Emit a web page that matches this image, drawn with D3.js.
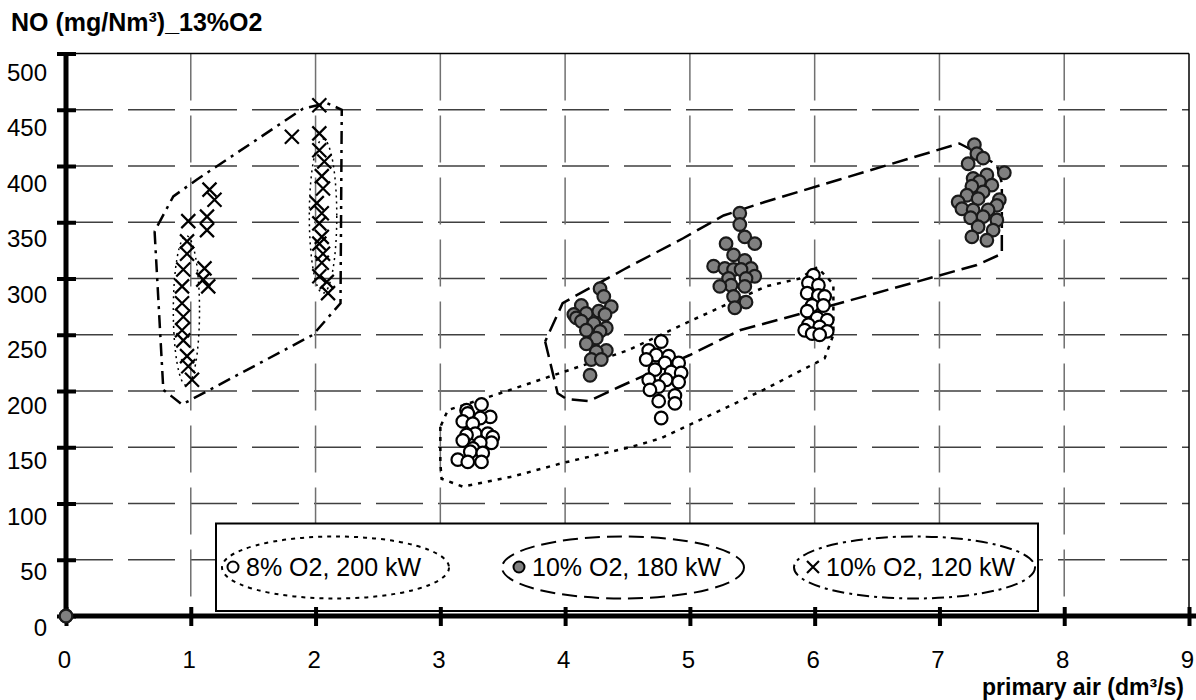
<!DOCTYPE html>
<html>
<head>
<meta charset="utf-8">
<script src="https://cdn.jsdelivr.net/npm/d3@7"></script>
<style>
  body { margin: 0; background: #fff; }
  svg { display: block; font-family: "Liberation Sans", Arial, sans-serif; }
</style>
</head>
<body>
<svg id="chart" width="1196" height="700"></svg>
<script>
// axis ticks
const xTicks = d3.range(0, 10);
const yTicks = d3.range(0, 501, 50);

// 8% O2, 200 kW (open circles)
const open200 = [
  [3.33,188],[3.21,183],[3.22,180],[3.40,177],[3.32,176],[3.18,173],[3.26,171],[3.28,162],
  [3.38,162],[3.21,161],[3.42,159],[3.18,156],[3.41,154],[3.32,154],[3.26,149],[3.24,146],
  [3.34,145],[3.14,139],[3.22,137],[3.33,137],
  [4.77,244],[4.67,236],[4.73,232],[4.83,231],[4.65,228],[4.80,225],[4.91,225],[4.72,219],
  [4.85,217],[4.93,216],[4.67,210],[4.81,210],[4.91,208],[4.75,204],[4.68,201],[4.88,196],
  [4.75,191],[4.88,189],[4.77,176],
  [5.99,303],[5.95,296],[6.03,294],[5.94,287],[6.03,285],[6.08,284],[5.98,276],[6.07,276],
  [5.94,271],[6.02,265],[6.10,263],[5.95,259],[6.04,257],[5.92,254],[6.10,253],[5.98,251],[6.04,250]
];

// 10% O2, 180 kW (grey circles)
const grey180 = [
  [0,0],
  [4.28,291],[4.31,284],[4.13,276],[4.37,275],[4.17,269],[4.27,271],[4.07,268],[4.32,268],
  [4.09,265],[4.13,262],[4.23,260],[4.33,256],[4.17,254],[4.28,253],[4.25,247],[4.17,242],
  [4.33,236],[4.25,235],[4.21,228],[4.29,228],[4.20,214],
  [5.40,358],[5.40,348],[5.44,337],[5.29,331],[5.52,331],[5.35,321],[5.44,316],[5.19,311],
  [5.28,309],[5.49,309],[5.35,308],[5.41,308],[5.52,302],[5.31,300],[5.45,300],[5.33,294],
  [5.24,293],[5.44,293],[5.35,284],[5.45,279],[5.36,274],
  [7.28,419],[7.30,411],[7.35,407],[7.23,402],[7.52,394],[7.38,392],[7.27,389],[7.32,386],
  [7.42,383],[7.26,382],[7.35,377],[7.22,374],[7.31,371],[7.48,370],[7.15,368],[7.46,365],
  [7.18,362],[7.27,361],[7.39,361],[7.35,355],[7.25,354],[7.46,352],[7.31,346],[7.43,343],
  [7.26,337],[7.38,334]
];

// 10% O2, 120 kW (crosses)
const cross120 = [
  [1.15,379],[1.19,370],[0.98,351],[1.13,355],[1.13,343],[0.97,333],[0.97,322],[0.94,308],
  [1.11,309],[1.10,299],[1.14,293],[0.93,293],[0.93,278],[0.94,266],[0.93,254],[0.94,245],
  [0.97,231],[0.98,222],[1.01,210],
  [2.03,454],[1.81,426],[2.03,429],[2.03,414],[2.07,404],[2.05,391],[2.06,380],[2.01,367],
  [2.05,358],[2.03,349],[2.05,337],[2.03,331],[2.06,322],[2.05,314],[2.03,302],[2.09,297],[2.10,287]
];

// hand-drawn envelopes round each series
const env200 = [
  [3.0,168],[3.0,136],[3.01,122],[3.18,115],[3.58,124],[3.98,136],[4.52,150],[4.77,158],
  [5.59,201],[6.08,229],[6.15,250],[6.15,295],[6.02,310],[5.88,300],[5.61,293],[5.0,262],
  [4.5,236],[3.88,213],[3.48,198],[3.06,183],[3.0,168]
];
const env180 = [
  [3.84,244],[3.94,198],[4.01,193],[4.19,191],[4.44,204],[5.0,232],[5.4,254],[5.6,260],
  [6.2,278],[7.3,312],[7.5,322],[7.5,385],[7.46,401],[7.23,416],[7.16,420],[6.2,388],
  [5.6,368],[5.27,356],[4.95,336],[4.47,308],[4.09,285],[3.98,278],[3.84,244]
];
const env120 = [
  [0.71,342],[0.78,201],[0.85,195],[0.93,188],[1.98,250],[2.2,278],[2.21,450],[2.09,456],
  [1.90,451],[1.05,388],[0.86,373],[0.71,342]
];
// dotted halos round the two cross clusters: [xmin, xmax, ymin, ymax]
const halo120 = [[0.86, 1.07, 205, 338], [1.95, 2.17, 287, 424]];

const legendLabels = ['8% O2, 200 kW', '10% O2, 180 kW', '10% O2, 120 kW'];

const svg = d3.select('#chart');
const x = d3.scaleLinear().domain([0, 9]).range([66, 1189]);
const y = d3.scaleLinear().domain([0, 500]).range([616, 53.5]);
const yLab = d3.scaleLinear().domain([0, 500]).range([635, 80]);

// grid
const grid = svg.append('g');
grid.selectAll('line.h')
  .data(yTicks.filter(d => d > 0 && d < 500))
  .join('line')
  .attr('x1', x(0)).attr('x2', x(9))
  .attr('y1', d => y(d)).attr('y2', d => y(d))
  .attr('stroke', '#404040').attr('stroke-width', 1.5)
  .attr('stroke-dasharray', '47,15');
grid.selectAll('line.v')
  .data(xTicks.filter(d => d > 0 && d < 9))
  .join('line')
  .attr('x1', d => x(d)).attr('x2', d => x(d))
  .attr('y1', y(500)).attr('y2', y(0))
  .attr('stroke', '#707070').attr('stroke-width', 1.5)
  .attr('stroke-dasharray', '47,15');
grid.append('line')
  .attr('x1', x(0)).attr('x2', x(9)).attr('y1', y(500)).attr('y2', y(500))
  .attr('stroke', '#000').attr('stroke-width', 1.5);
grid.append('line')
  .attr('x1', x(9)).attr('x2', x(9)).attr('y1', y(500)).attr('y2', y(0))
  .attr('stroke', '#000').attr('stroke-width', 1.5);

// envelopes
const line = d3.line().x(d => x(d[0])).y(d => y(d[1]));
const envStyles = [
  { data: env200, dash: '4,6' },
  { data: env180, dash: '16,7' },
  { data: env120, dash: '13,6,3,6' }
];
svg.append('g')
  .selectAll('path')
  .data(envStyles)
  .join('path')
  .attr('d', d => line(d.data))
  .attr('fill', 'none')
  .attr('stroke', '#000')
  .attr('stroke-width', 2.5)
  .attr('stroke-dasharray', d => d.dash);

svg.append('g')
  .selectAll('ellipse')
  .data(halo120)
  .join('ellipse')
  .attr('cx', d => (x(d[0]) + x(d[1])) / 2)
  .attr('cy', d => (y(d[2]) + y(d[3])) / 2)
  .attr('rx', d => (x(d[1]) - x(d[0])) / 2)
  .attr('ry', d => (y(d[2]) - y(d[3])) / 2)
  .attr('fill', 'none')
  .attr('stroke', '#000')
  .attr('stroke-width', 1.5)
  .attr('stroke-dasharray', '2,4');

// points
const cross = (g, s) => g.append('path')
  .attr('d', `M${-s},${-s}L${s},${s}M${-s},${s}L${s},${-s}`)
  .attr('stroke', '#000').attr('stroke-width', 2.2).attr('fill', 'none');

svg.append('g')
  .selectAll('g')
  .data(cross120)
  .join('g')
  .attr('transform', d => `translate(${x(d[0])},${y(d[1])})`)
  .each(function () { cross(d3.select(this), 7); });

svg.append('g')
  .selectAll('circle')
  .data(open200)
  .join('circle')
  .attr('cx', d => x(d[0])).attr('cy', d => y(d[1]))
  .attr('r', 6.3)
  .attr('fill', '#fff').attr('stroke', '#000').attr('stroke-width', 2.2);

svg.append('g')
  .selectAll('circle')
  .data(grey180)
  .join('circle')
  .attr('cx', d => x(d[0])).attr('cy', d => y(d[1]))
  .attr('r', 6.3)
  .attr('fill', '#808080').attr('stroke', '#1a1a1a').attr('stroke-width', 2.2);

// legend
const leg = svg.append('g');
leg.append('rect')
  .attr('x', 216).attr('y', 523.5).attr('width', 822).attr('height', 87.5)
  .attr('fill', '#fff').attr('stroke', '#000').attr('stroke-width', 2);
const legItems = [
  { cx: 335.5, rx: 113.5, dash: '4,5', mx: 233, tx: 246 },
  { cx: 623, rx: 121, dash: '15,7', mx: 519, tx: 532 },
  { cx: 914.5, rx: 120.5, dash: '12,5,3,5', mx: 813, tx: 826 }
];
legItems.forEach((it, i) => {
  leg.append('ellipse')
    .attr('cx', it.cx).attr('cy', 567.5).attr('rx', it.rx).attr('ry', 31)
    .attr('fill', 'none').attr('stroke', '#000').attr('stroke-width', 2)
    .attr('stroke-dasharray', it.dash);
  if (i === 2) {
    const g = leg.append('g').attr('transform', `translate(${it.mx},567)`);
    cross(g, 6);
  } else {
    leg.append('circle')
      .attr('cx', it.mx).attr('cy', 567).attr('r', 5.5)
      .attr('fill', i === 0 ? '#fff' : '#808080')
      .attr('stroke', '#000').attr('stroke-width', 2);
  }
  leg.append('text')
    .attr('x', it.tx).attr('y', 576)
    .attr('font-size', 25)
    .text(legendLabels[i]);
});

// axes
const xAxis = svg.append('g')
  .attr('transform', `translate(0,${y(0)})`)
  .call(d3.axisBottom(x).tickValues(xTicks).tickFormat(d3.format('d')));
xAxis.select('.domain').remove();
xAxis.selectAll('.tick line')
  .attr('y1', -9).attr('y2', 10).attr('stroke', '#000').attr('stroke-width', 4);
xAxis.selectAll('.tick text')
  .attr('y', 52).attr('dy', 0).attr('dx', -2)
  .attr('font-size', 24).attr('font-family', null).attr('fill', '#000');

const yAxis = svg.append('g')
  .attr('transform', `translate(${x(0)},0)`)
  .call(d3.axisLeft(y).tickValues(yTicks));
yAxis.select('.domain').remove();
yAxis.selectAll('.tick line')
  .attr('x1', -9).attr('x2', 10).attr('stroke', '#000').attr('stroke-width', 4);
yAxis.selectAll('.tick text')
  .attr('x', -19).attr('dy', 0)
  .attr('y', d => yLab(d) - y(d))
  .attr('font-size', 24).attr('font-family', null).attr('fill', '#000');

svg.append('line')
  .attr('x1', x(0)).attr('x2', 1196).attr('y1', y(0)).attr('y2', y(0))
  .attr('stroke', '#000').attr('stroke-width', 5);
svg.append('line')
  .attr('x1', x(0)).attr('x2', x(0)).attr('y1', y(500)).attr('y2', y(0))
  .attr('stroke', '#000').attr('stroke-width', 5);

// origin point sits on top of the axes
svg.append('circle')
  .datum(grey180[0])
  .attr('cx', d => x(d[0])).attr('cy', d => y(d[1]))
  .attr('r', 6.3)
  .attr('fill', '#808080').attr('stroke', '#1a1a1a').attr('stroke-width', 2.2);

// titles
svg.append('text')
  .attr('x', 11).attr('y', 31)
  .attr('font-size', 25).attr('font-weight', 'bold')
  .text('NO (mg/Nm³)_13%O2');
svg.append('text')
  .attr('x', 1184).attr('y', 695)
  .attr('text-anchor', 'end')
  .attr('font-size', 23).attr('font-weight', 'bold')
  .text('primary air (dm³/s)');
</script>
</body>
</html>
